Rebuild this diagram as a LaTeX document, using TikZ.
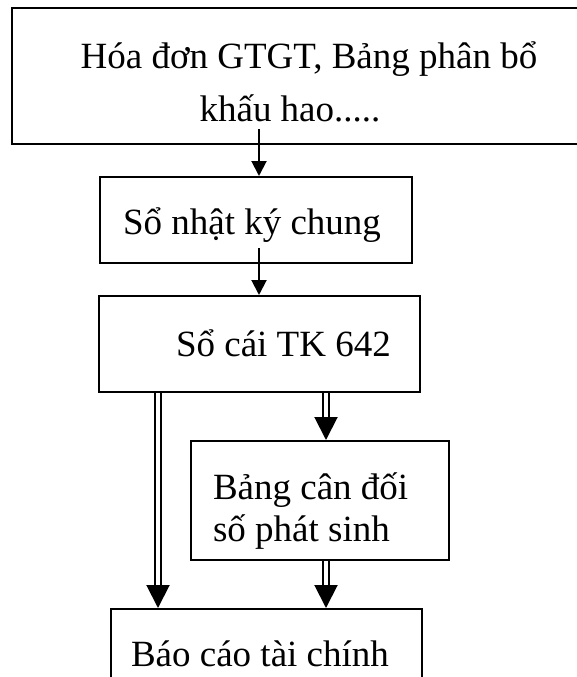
\documentclass[tikz,border=0pt]{standalone}
\usepackage{fontspec}
\setmainfont{Liberation Serif}
\usetikzlibrary{arrows.meta,calc}
\tikzset{
    flow chart/.style = {x=1pt, y=-1pt, font=\fontsize{37}{44}\selectfont},
    box/.style        = {draw, line width=2pt, anchor=north west,
                         align=flush left, inner ysep=0pt,
                         text height=36pt, text depth=8pt,
                         execute at begin node={\spaceskip=\fontdimen2\font\relax}},
    flow/.style       = {line width=2pt,
                         -{Triangle[length=15pt, width=15pt]}},
    posting/.style    = {double, double distance=3.5pt, line width=2pt,
                         -{Triangle[length=23pt, width=23pt]}}
}

\begin{document}
\begin{tikzpicture}[flow chart]
\useasboundingbox (0,0) rectangle (577,677);
\clip (0,0) rectangle (577,677);

% Source documents, box runs past the right margin
\node[box, align=flush center, inner xsep=0pt, text width=594pt, minimum height=136pt,
      text depth=52pt, font=\fontsize{37}{53}\selectfont]
    (src) at (11,7) {Hóa đơn GTGT, Bảng phân bổ\\khấu hao.....\rule{38pt}{0pt}};

% Books and reports
\node[box, inner xsep=23pt, text width=266pt, minimum height=86pt]
    (journal) at (99,176) {Sổ nhật ký chung};
\node[box, inner xsep=20pt, text width=281pt, minimum height=96pt,
      text height=32pt]
    (ledger) at (98,295) {\hspace*{57pt}Sổ cái TK 642};
\node[box, inner xsep=22pt, text width=214pt, minimum height=119pt,
      text depth=39pt, font=\fontsize{37}{42}\selectfont]
    (balance) at (190,440) {Bảng cân đối\\số phát sinh};
\node[box, inner xsep=20pt, text width=271pt, minimum height=86pt]
    (report) at (110,608) {Báo cáo tài chính};

% Columns of the connectors
\coordinate (colA) at (259,0);
\coordinate (colB) at (158,0);
\coordinate (colC) at (326,0);

\draw[flow] ($(src.south -| colA)+(0,-16)$) -- (journal.north -| colA);
\draw[flow] ($(journal.south -| colA)+(0,-16)$) -- (ledger.north -| colA);
\draw[posting] (ledger.south -| colB) -- (report.north -| colB);
\draw[posting] (ledger.south -| colC) -- (balance.north -| colC);
\draw[posting] (balance.south -| colC) -- (report.north -| colC);

\end{tikzpicture}
\end{document}
